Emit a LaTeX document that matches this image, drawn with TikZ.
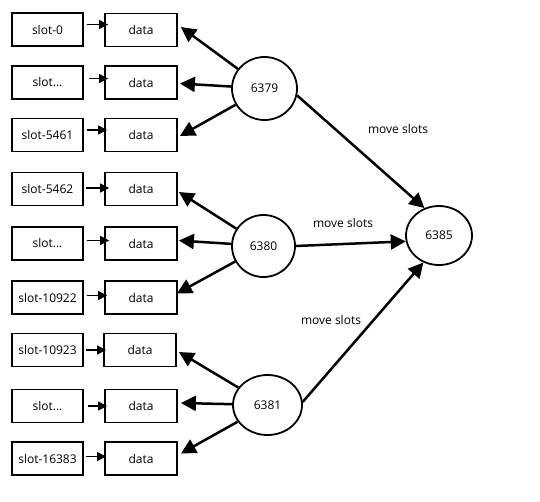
\documentclass[tikz,border=0pt]{standalone}
\usepackage{fontspec}
\setmainfont{Open Sans}
\usetikzlibrary{shapes.geometric,arrows.meta}
\begin{document}
\begin{tikzpicture}[x=1pt,y=-1pt,
  box/.style={draw,line width=1.8pt,minimum width=71pt,minimum height=33pt,inner sep=1pt,font=\fontsize{12}{14}\selectfont},
  srv/.style={draw,ellipse,line width=1.8pt,inner sep=0pt,font=\fontsize{12}{14}\selectfont},
  lbl/.style={font=\fontsize{12}{14}\selectfont,inner sep=0pt},
  thin arr/.style={line width=1.1pt,-{Triangle[length=9pt,width=9pt]}},
  big arr/.style={line width=2.5pt,-{Triangle[length=15pt,width=15pt]}}]
\useasboundingbox (0,0) rectangle (540,501);
% slot boxes
\node[box] (s1) at (47.5,29.5) {slot-0\hspace{20pt}};
\node[box] (s2) at (47.5,82.5) {slot...\hspace{20pt}};
\node[box] (s3) at (47.5,135) {slot-5461};
\node[box] (s4) at (47.5,189) {slot-5462};
\node[box] (s5) at (47.5,243.5) {slot...\hspace{20pt}};
\node[box] (s6) at (47.5,297.5) {slot-10922};
\node[box] (s7) at (47.5,350) {slot-10923};
\node[box] (s8) at (47.5,406) {slot...\hspace{24pt}};
\node[box] (s9) at (47.5,458.5) {slot-16383};
% data boxes
\node[box,minimum width=72pt] (d1) at (141,30) {data};
\node[box,minimum width=72pt] (d2) at (141,82.5) {data};
\node[box,minimum width=72pt] (d3) at (141,135) {data};
\node[box,minimum width=72pt] (d4) at (141,189) {data};
\node[box,minimum width=72pt] (d5) at (141,243.5) {data};
\node[box,minimum width=72pt] (d6) at (141,297.5) {data};
\node[box,minimum width=72pt] (d7) at (140,350) {data};
\node[box,minimum width=72pt] (d8) at (141,406) {data};
\node[box,minimum width=72pt] (d9) at (141,458.5) {data};
% servers
\node[srv,minimum width=65pt,minimum height=63pt] (c1) at (264.5,88.5) {6379};
\node[srv,minimum width=63pt,minimum height=62pt] (c2) at (263.5,246) {6380};
\node[srv,minimum width=69pt,minimum height=60pt] (c3) at (267.5,405) {6381};
\node[srv,minimum width=66pt,minimum height=59pt] (c4) at (439,235.5) {6385};
% labels
\node[lbl] (m1) at (398,129) {move slots};
\node[lbl] (m2) at (343,223) {move slots};
\node[lbl] (m3) at (331,320) {move slots};
% slot -> data
\draw[thin arr] ([xshift=3pt,yshift=5pt]s1.east) -- ([xshift=4pt,yshift=5pt]s1.east -| d1.west);
\draw[thin arr] ([xshift=5pt,yshift=4pt]s2.east) -- ([xshift=4pt,yshift=4pt]s2.east -| d2.west);
\draw[thin arr] ([xshift=3pt,yshift=5pt]s3.east) -- ([xshift=3pt,yshift=5pt]s3.east -| d3.west);
\draw[thin arr] ([xshift=2pt,yshift=1pt]s4.east) -- ([xshift=5pt,yshift=1pt]s4.east -| d4.west);
\draw[thin arr] ([xshift=3pt,yshift=3pt]s5.east) -- ([xshift=5pt,yshift=3pt]s5.east -| d5.west);
\draw[thin arr] ([xshift=3pt,yshift=2pt]s6.east) -- ([xshift=3pt,yshift=2pt]s6.east -| d6.west);
\draw[thin arr] ([xshift=2pt]s7.east) -- ([xshift=3pt]s7.east -| d7.west);
\draw[thin arr] ([xshift=4pt]s8.east) -- ([xshift=3pt]s8.east -| d8.west);
\draw[thin arr] ([xshift=2pt,yshift=2pt]s9.east) -- ([xshift=2pt,yshift=2pt]s9.east -| d9.west);
% server -> data
\draw[big arr] (c1) -- ([xshift=3pt,yshift=3pt]d1.east);
\draw[big arr] (c1) -- ([xshift=2pt,yshift=-1pt]d2.east);
\draw[big arr] (c1) -- ([xshift=2pt,yshift=-1pt]d3.east);
\draw[big arr] (c2) -- ([xshift=1pt,yshift=-3pt]d4.east);
\draw[big arr] (c2) -- ([xshift=1pt,yshift=3pt]d5.east);
\draw[big arr] (c2) -- ([xshift=-1pt,yshift=4pt]d6.east);
\draw[big arr] (c3) -- ([xshift=2pt,yshift=-2pt]d7.east);
\draw[big arr] (c3) -- ([xshift=3pt,yshift=3pt]d8.east);
\draw[big arr] (c3) -- ([xshift=3pt,yshift=5pt]d9.east);
% servers -> 6385
\draw[big arr] (c1.-12) -- (c4.118);
\draw[big arr] (c2.east) -- (c4.190);
\draw[big arr] (c3.5) -- (c4.240);
\end{tikzpicture}
\end{document}
